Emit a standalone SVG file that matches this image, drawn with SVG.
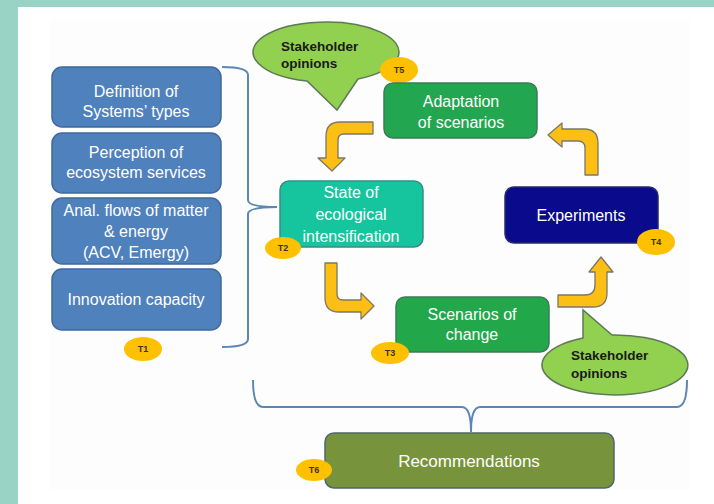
<svg xmlns="http://www.w3.org/2000/svg" width="714" height="504" viewBox="0 0 714 504">
<defs>
<style>
.box{stroke-width:1.5}
.blue{fill:#4f81bd;stroke:#3e6a9c}
.t{font-family:"Liberation Sans",Arial,sans-serif;fill:#fff;text-anchor:middle;font-size:16px}
.badge{fill:#ffc000}
.bt{font-family:"Liberation Sans",Arial,sans-serif;font-weight:bold;font-size:9px;fill:#3b3320;text-anchor:middle}
.call{fill:#92d050;stroke:#5d7a55;stroke-width:1.5}
.ct{font-family:"Liberation Sans",Arial,sans-serif;font-weight:bold;font-size:13.5px;fill:#1a1a1a}
.arr{fill:#fdbf13;stroke:#7b7868;stroke-width:1.3;stroke-linejoin:round}
.br{fill:none;stroke:#5b87b6;stroke-width:2}
</style>
</defs>
<rect x="0" y="0" width="714" height="504" fill="#99d3c5"/>
<rect x="18" y="7" width="696" height="497" fill="#ffffff"/>
<rect x="50" y="20" width="640" height="470" fill="#fdfdfd"/>

<g id="connectors">
<path class="br" d="M 222 67 Q 248 67 248 75 L 248 200 Q 248 207 277 207 Q 248 207 248 214 L 248 339 Q 248 347 222 347"/>
<path class="br" d="M 253 380 Q 253 407 263 407 L 462 407 Q 471 407 471 432 Q 471 407 480 407 L 677 407 Q 687 407 687 380"/>
<path class="arr" d="M 373 122 L 340 122 Q 326 122 326 136 L 326 158 L 318 158 L 332 171 L 345 158 L 338 158 L 338 140 Q 338 134 344 134 L 373 134 Z"/>
<path class="arr" d="M 585 175 L 585 148 Q 585 141 578 141 L 562 141 L 562 147 L 548 135 L 562 123 L 562 129 L 584 129 Q 598 129 598 143 L 598 175 Z"/>
<path class="arr" d="M 325 263 L 337 263 L 337 294 Q 337 300 343 300 L 361 300 L 361 293 L 374 306 L 361 319 L 361 312 L 339 312 Q 325 312 325 298 Z"/>
<path class="arr" d="M 558 295 L 585 295 Q 595 295 595 285 L 595 272 L 589 272 L 601 257 L 613 272 L 607 272 L 607 293 Q 607 307 593 307 L 558 307 Z"/>
</g>

<g id="box-definition">
<rect class="box blue" x="52" y="67" width="169" height="60" rx="10"/>
<text class="t" x="136" y="97">Definition  of</text>
<text class="t" x="136" y="117">Systems’ types</text>
</g>
<g id="box-perception">
<rect class="box blue" x="52" y="133" width="169" height="60" rx="10"/>
<text class="t" x="136" y="158">Perception of</text>
<text class="t" x="136" y="178">ecosystem services</text>
</g>
<g id="box-anal">
<rect class="box blue" x="52" y="198" width="169" height="66" rx="10"/>
<text class="t" x="136" y="216">Anal. flows of matter</text>
<text class="t" x="136" y="237">&amp; energy</text>
<text class="t" x="136" y="258">(ACV, Emergy)</text>
</g>
<g id="box-innovation">
<rect class="box blue" x="52" y="269" width="169" height="61" rx="10"/>
<text class="t" x="136" y="305">Innovation capacity</text>
</g>
<g id="badge-t1">
<ellipse class="badge" cx="143" cy="349" rx="19" ry="12"/>
<text class="bt" x="143" y="352">T1</text>
</g>

<g id="callout-1">
<path class="call" d="M 307 81 A 73 30 0 1 1 358 79 L 337 110 Z"/>
<text class="ct" x="281" y="51">Stakeholder</text>
<text class="ct" x="281" y="68">opinions</text>
</g>
<g id="badge-t5">
<ellipse class="badge" cx="399" cy="70" rx="19" ry="13"/>
<text class="bt" x="399" y="73">T5</text>
</g>

<g id="box-adaptation">
<rect class="box" x="384" y="83" width="153" height="55" rx="9" fill="#22a650" stroke="#3f7a5a"/>
<text class="t" x="461" y="107">Adaptation</text>
<text class="t" x="461" y="128">of scenarios</text>
</g>

<g id="box-state">
<rect class="box" x="280" y="181" width="143" height="66" rx="9" fill="#16c59e" stroke="#3c8a86"/>
<text class="t" x="351" y="198">State of</text>
<text class="t" x="351" y="220">ecological</text>
<text class="t" x="351" y="242">intensification</text>
</g>
<g id="badge-t2">
<ellipse class="badge" cx="283" cy="248" rx="18" ry="11"/>
<text class="bt" x="283" y="251">T2</text>
</g>

<g id="box-experiments">
<rect class="box" x="505" y="187" width="153" height="56" rx="9" fill="#0a0a8c" stroke="#2a2a6a"/>
<text class="t" x="581" y="221">Experiments</text>
</g>
<g id="badge-t4">
<ellipse class="badge" cx="656" cy="242" rx="19" ry="13"/>
<text class="bt" x="656" y="245">T4</text>
</g>

<g id="box-scenarios">
<rect class="box" x="396" y="297" width="153" height="55" rx="9" fill="#22a84a" stroke="#3f7a5a"/>
<text class="t" x="472" y="320">Scenarios of</text>
<text class="t" x="472" y="340">change</text>
</g>
<g id="badge-t3">
<ellipse class="badge" cx="390" cy="353" rx="19" ry="11"/>
<text class="bt" x="390" y="356">T3</text>
</g>

<g id="callout-2">
<path class="call" d="M 612 335 A 73 30 0 1 1 583 338 L 583 310 Z"/>
<text class="ct" x="571" y="360">Stakeholder</text>
<text class="ct" x="571" y="378">opinions</text>
</g>

<g id="box-recommendations">
<rect class="box" x="325" y="433" width="289" height="55" rx="9" fill="#77933c" stroke="#4f6670"/>
<text class="t" x="469" y="467" style="font-size:17px">Recommendations</text>
</g>
<g id="badge-t6">
<ellipse class="badge" cx="314" cy="470" rx="18" ry="11"/>
<text class="bt" x="314" y="473">T6</text>
</g>
</svg>
